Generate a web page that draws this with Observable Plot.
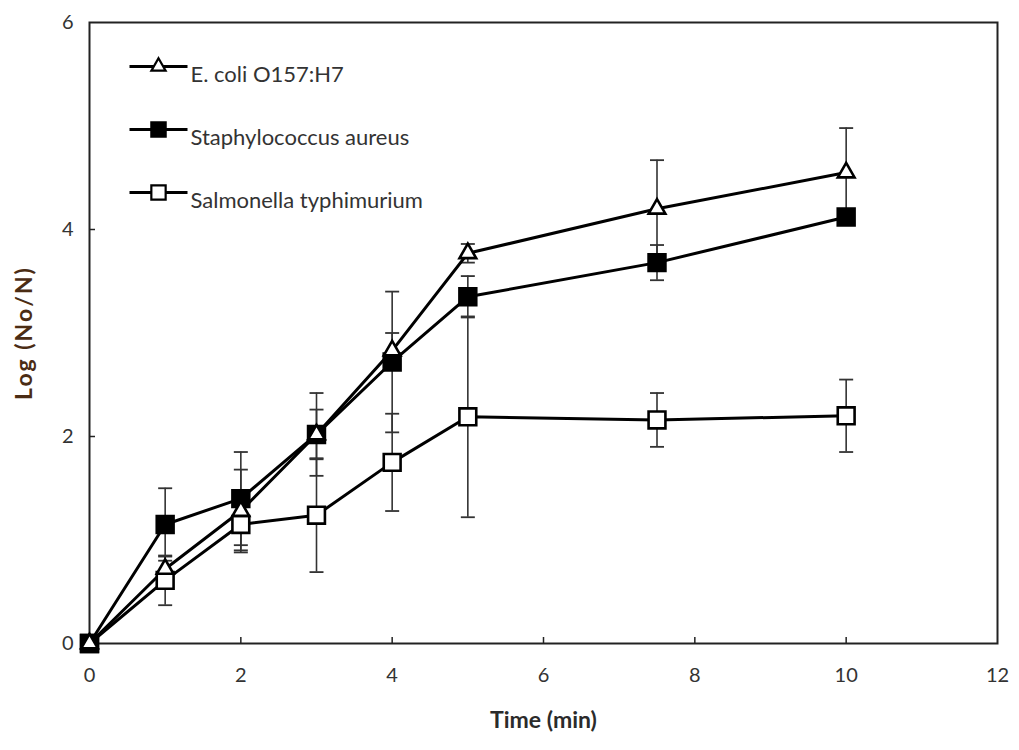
<!DOCTYPE html>
<html><head><meta charset="utf-8">
<script src="https://cdn.jsdelivr.net/npm/d3@7"></script>
<script src="https://cdn.jsdelivr.net/npm/@observablehq/plot@0.6"></script>
<style>
body{margin:0;background:#fff}
#chart svg{font-family:Lato,"Open Sans",sans-serif}
g[aria-label="x-axis label"] text{font-weight:bold;fill:#2b2b2b;font-size:23px}
g[aria-label="y-axis label"] text{font-weight:bold;fill:#4b2c14;font-size:23px;letter-spacing:2px}
</style></head><body><div id="chart"></div>
<script>
const times = [0, 1, 2, 3, 4, 5, 7.5, 10];
const seriesNames = ["E. coli O157:H7", "Staphylococcus aureus", "Salmonella typhimurium"];
const ecoli    = [0, 0.72, 1.28, 2.02, 2.83, 3.77, 4.20, 4.55];
const ecoliErr = [0, 0.12, 0.40, 0.40, 0.17, 0.09, 0.47, 0.43];
const staph    = [0, 1.15, 1.40, 2.02, 2.72, 3.35, 3.68, 4.12];
const staphErr = [0, 0.35, 0.45, 0.24, 0.68, 0.20, 0.17, 0.05];
const salm     = [0, 0.61, 1.15, 1.24, 1.75, 2.19, 2.16, 2.20];
const salmErr  = [0, 0.24, 0.25, 0.55, 0.47, 0.97, 0.26, 0.35];
const xTicks = [0, 2, 4, 6, 8, 10, 12];
const yTicks = [0, 2, 4, 6];

const means = [ecoli, staph, salm];
const errs = [ecoliErr, staphErr, salmErr];
const symbols = ["triangle", "square", "square"];
const fills = ["#fff", "#000", "#fff"];
const radii = [6.2, 9.5, 9.5];

const rows = [];
seriesNames.forEach((name, s) => {
  times.forEach((t, i) => {
    rows.push({series: name, s, t, v: means[s][i], lo: means[s][i] - errs[s][i], hi: means[s][i] + errs[s][i], e: errs[s][i]});
  });
});
const errRows = rows.filter(d => d.e > 0);

const capSym = {draw(ctx) { ctx.moveTo(-7, 0); ctx.lineTo(7, 0); }};
const legLine = {draw(ctx) { ctx.moveTo(-29, 0); ctx.lineTo(29, 0); }};

const marks = [
  Plot.frame({stroke: "#222", strokeWidth: 2}),
  Plot.ruleX(xTicks.filter(d => d > 0 && d < 12), {x: d => d, insetTop: 615, stroke: "#222", strokeWidth: 1.5}),
  Plot.ruleY(yTicks.filter(d => d > 0 && d < 6), {y: d => d, insetRight: 902, stroke: "#222", strokeWidth: 1.5}),
  Plot.axisX({ticks: xTicks, tickFormat: d3.format("d"), tickSize: 0, tickPadding: 24, fontSize: 20, fill: "#333",
    label: "Time (min)", labelAnchor: "center", labelArrow: "none", labelOffset: 84}),
  Plot.axisY({ticks: yTicks, tickFormat: d3.format("d"), tickSize: 0, tickPadding: 16, fontSize: 20, fill: "#333",
    label: "Log (No/N)", labelAnchor: "center", labelArrow: "none", labelOffset: 74}),
  Plot.ruleX(errRows, {x: "t", y1: "lo", y2: "hi", stroke: "#333", strokeWidth: 1.6}),
  Plot.dot(errRows, {x: "t", y: "lo", symbol: capSym, stroke: "#333", strokeWidth: 1.8}),
  Plot.dot(errRows, {x: "t", y: "hi", symbol: capSym, stroke: "#333", strokeWidth: 1.8}),
  Plot.line(rows, {x: "t", y: "v", z: "series", stroke: "#000", strokeWidth: 3})
];
// markers (Salmonella, Staph, E. coli order so triangles on top)
[2, 1, 0].forEach(s => {
  marks.push(Plot.dot(rows.filter(d => d.s === s), {x: "t", y: "v", symbol: symbols[s], r: radii[s], fill: fills[s], stroke: "#000", strokeWidth: 2.6}));
});
// legend inside the frame
seriesNames.forEach((name, s) => {
  const dy = 44 + s * 63;
  marks.push(Plot.dot([name], {frameAnchor: "top-left", dx: 69, dy, symbol: legLine, stroke: "#000", strokeWidth: 3}));
  marks.push(Plot.dot([name], {frameAnchor: "top-left", dx: 69, dy, symbol: symbols[s], r: radii[s] * 0.85, fill: fills[s], stroke: "#000", strokeWidth: 2.2}));
  marks.push(Plot.text([name], {text: d => d, frameAnchor: "top-left", dx: 101, dy, textAnchor: "start", fontSize: 22, fill: "#333"}));
});

const chart = Plot.plot({
  width: 1019, height: 750,
  marginLeft: 89, marginRight: 22, marginTop: 22, marginBottom: 107,
  x: {domain: [0, 12]},
  y: {domain: [0, 6]},
  marks
});
document.getElementById("chart").appendChild(chart);
</script></body></html>
